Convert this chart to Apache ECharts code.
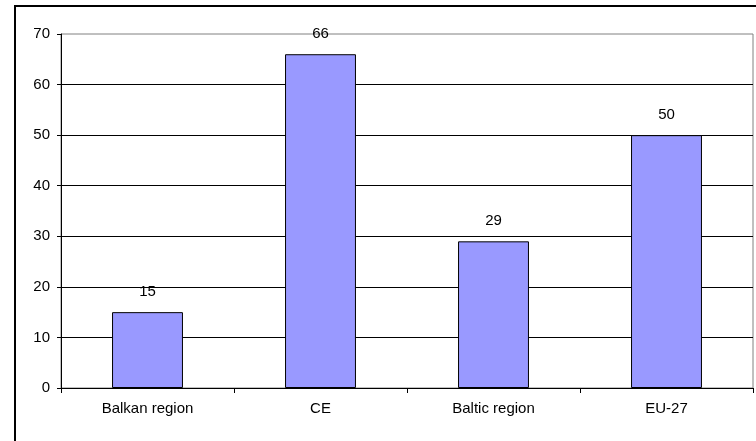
<!DOCTYPE html>
<html>
<head>
<meta charset="utf-8">
<script src="https://cdn.jsdelivr.net/npm/echarts@6/dist/echarts.min.js"></script>
<style>
  html, body { margin: 0; padding: 0; background: #fff; }
  #chart { width: 756px; height: 441px; }
</style>
</head>
<body>
<div id="chart"></div>
<script>
// Regions shown on the category axis
const categories = ['Balkan region', 'CE', 'Baltic region', 'EU-27'];
// Value for each region
const values = [15, 66, 29, 50];
// Value axis range and step
const yMin = 0;
const yMax = 70;
const yStep = 10;

const fontFamily = '"Liberation Sans", Arial, sans-serif';
const chart = echarts.init(document.getElementById('chart'), null, { renderer: 'canvas' });

chart.setOption({
  backgroundColor: '#ffffff',
  animation: false,
  textStyle: { fontFamily: fontFamily },
  graphic: [{
    type: 'rect',
    shape: { x: 15, y: 6, width: 800, height: 500 },
    style: { fill: 'none', stroke: '#000000', lineWidth: 2 },
    silent: true,
    z: 100
  }],
  grid: {
    left: 61, top: 34, right: 3, bottom: 53,
    show: true,
    borderColor: '#808080',
    borderWidth: 1,
    backgroundColor: 'transparent'
  },
  xAxis: {
    type: 'category',
    data: categories,
    axisLine: { lineStyle: { color: '#000', width: 1 } },
    axisTick: { show: true, inside: false, length: 5, lineStyle: { color: '#000' } },
    axisLabel: { color: '#000', fontSize: 15, margin: 13, fontFamily: fontFamily },
    splitLine: { show: false }
  },
  yAxis: {
    type: 'value',
    min: yMin, max: yMax, interval: yStep,
    axisLine: { show: true, lineStyle: { color: '#000', width: 1 } },
    axisTick: { show: true, inside: false, length: 4, lineStyle: { color: '#000' } },
    axisLabel: { color: '#000', fontSize: 15, margin: 11, fontFamily: fontFamily },
    splitLine: { show: true, showMaxLine: false, lineStyle: { color: '#000', width: 1 } }
  },
  series: [{
    type: 'bar',
    data: values,
    barWidth: '41%',
    itemStyle: { color: '#9999FF', borderColor: '#000', borderWidth: 1 },
    label: {
      show: true, position: 'top', distance: 13,
      color: '#000', fontSize: 15, fontFamily: fontFamily
    }
  }]
});
</script>
</body>
</html>
